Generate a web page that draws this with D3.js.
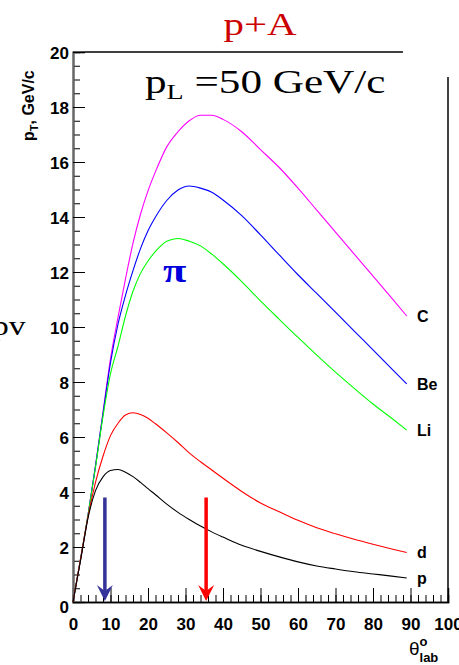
<!DOCTYPE html>
<html>
<head>
<meta charset="utf-8">
<script src="https://cdn.jsdelivr.net/npm/d3@7"></script>
<style>
  html, body { margin: 0; padding: 0; background: #fff; }
  svg { display: block; }
  .tick text { font-family: "Liberation Sans", Arial, sans-serif; font-weight: bold; font-size: 17px; fill: #000; }
</style>
</head>
<body>
<svg id="chart" width="459" height="665"></svg>
<script>
// Emission angle in the lab frame (degrees)
const theta = [0, 2, 4, 6, 8, 10, 12, 14, 16, 18, 20, 22, 25, 28, 31, 34, 37, 40, 45, 50, 55, 60, 65, 70, 75, 80, 85, 89];

// Maximum transverse momentum (GeV/c) for each target fragment
const ptC  = [0, 1.55, 3.15, 4.95, 6.9, 8.85, 10.35, 11.75, 13.05, 14.1, 14.95, 15.65, 16.55, 17.1, 17.5, 17.7, 17.7, 17.55, 17.1, 16.45, 15.8, 15.05, 14.25, 13.45, 12.65, 11.85, 11.05, 10.4];
const ptBe = [0, 1.55, 3.15, 4.95, 6.85, 8.7, 10.1, 11.15, 12.05, 12.85, 13.5, 14.0, 14.6, 14.98, 15.13, 15.05, 14.9, 14.62, 14.05, 13.35, 12.62, 11.9, 11.22, 10.54, 9.85, 9.17, 8.48, 7.93];
const ptLi = [0, 1.55, 3.15, 4.9, 6.75, 8.3, 9.3, 10.4, 11.3, 11.95, 12.4, 12.75, 13.12, 13.22, 13.12, 12.95, 12.65, 12.3, 11.65, 10.95, 10.28, 9.62, 8.98, 8.36, 7.77, 7.2, 6.68, 6.25];
const ptD  = [0, 1.55, 3.1, 4.35, 5.3, 6.05, 6.5, 6.8, 6.88, 6.82, 6.68, 6.48, 6.15, 5.8, 5.42, 5.1, 4.8, 4.5, 4.02, 3.6, 3.28, 2.97, 2.7, 2.48, 2.28, 2.1, 1.93, 1.8];
const ptP  = [0, 1.5, 3.05, 4.05, 4.55, 4.78, 4.82, 4.72, 4.56, 4.35, 4.12, 3.9, 3.56, 3.26, 3.0, 2.76, 2.55, 2.36, 2.06, 1.84, 1.64, 1.46, 1.31, 1.2, 1.1, 1.02, 0.94, 0.87];

const seriesNames  = ["C", "Be", "Li", "d", "p"];
const seriesValues = [ptC, ptBe, ptLi, ptD, ptP];
const seriesColors = ["#ff00ff", "#0000ff", "#00ff00", "#ff0000", "#000000"];

// Marker arrows: angle (deg) and starting height (GeV/c)
const arrowTheta  = [8.5, 35.5];
const arrowTop    = [3.8, 3.8];
const arrowColors = ["#333399", "#ff0000"];

const xTicks = d3.range(0, 101, 10);
const yTicks = d3.range(0, 21, 2);

const svg = d3.select("#chart");
const x = d3.scaleLinear().domain([0, 100]).range([73, 448]);
const y = d3.scaleLinear().domain([0, 20]).range([602, 52]);

// Frame
svg.append("line").attr("x1", 73).attr("x2", 403).attr("y1", y(20)).attr("y2", y(20))
  .attr("stroke", "#000").attr("stroke-width", 1.5);
svg.append("line").attr("x1", 448).attr("x2", 448).attr("y1", 77).attr("y2", y(0))
  .attr("stroke", "#000").attr("stroke-width", 1.5);

// X axis: major + minor ticks pointing inward
const xMinor = svg.append("g").attr("transform", `translate(0,${y(0)})`)
  .call(d3.axisBottom(x).tickValues(d3.range(0, 101, 2)).tickSize(-7).tickFormat(""));
const xMajor = svg.append("g").attr("transform", `translate(0,${y(0)})`)
  .call(d3.axisBottom(x).tickValues(xTicks).tickSize(-14).tickPadding(16).tickFormat(d3.format("d")));
[xMinor, xMajor].forEach(g => {
  g.select(".domain").attr("stroke", "#000").attr("stroke-width", 1.5);
  g.selectAll(".tick line").attr("stroke", "#000").attr("stroke-width", 1);
});

// Y axis
const yMinor = svg.append("g").attr("transform", `translate(${x(0)},0)`)
  .call(d3.axisLeft(y).tickValues(d3.range(0, 20.01, 0.5)).tickSize(-7).tickFormat(""));
const yMajor = svg.append("g").attr("transform", `translate(${x(0)},0)`)
  .call(d3.axisLeft(y).tickValues(yTicks).tickSize(-12).tickPadding(4).tickFormat(d3.format("d")));
[yMinor, yMajor].forEach(g => {
  g.select(".domain").attr("stroke", "#666").attr("stroke-width", 2);
  g.selectAll(".tick line").attr("stroke", "#000").attr("stroke-width", 1);
});
yMajor.selectAll(".tick text").attr("dy", "0.36em");
yMajor.selectAll(".tick").filter(d => d === 0).select("text").attr("dy", "0.6em");

// Curves
const line = d3.line().x(d => x(d[0])).y(d => y(d[1])).curve(d3.curveMonotoneX);
seriesValues.forEach((vals, i) => {
  const pts = theta.map((t, j) => [t, vals[j]]);
  svg.append("path").datum(pts).attr("d", line)
    .attr("fill", "none").attr("stroke", seriesColors[i]).attr("stroke-width", 1.1);
  svg.append("text").attr("x", 417).attr("y", y(vals[vals.length - 1])).attr("dy", "0.36em")
    .attr("font-family", "Liberation Sans, Arial, sans-serif").attr("font-weight", "bold")
    .attr("font-size", 16).text(seriesNames[i]);
});

// Arrows
arrowTheta.forEach((t, i) => {
  const ax = x(t), top = y(arrowTop[i]), tip = y(0) - 1;
  svg.append("line").attr("x1", ax).attr("x2", ax).attr("y1", top).attr("y2", tip - 10)
    .attr("stroke", arrowColors[i]).attr("stroke-width", 3.5);
  svg.append("path")
    .attr("d", `M${ax - 8},${tip - 16} L${ax},${tip - 10} L${ax + 8},${tip - 16} L${ax},${tip} Z`)
    .attr("fill", arrowColors[i]);
});

// Titles and annotations (serif texts are drawn slightly widened)
const serif = "Liberation Serif, Times New Roman, serif";
svg.append("text").attr("transform", "translate(260,35) scale(1.28,1)").attr("text-anchor", "middle")
  .attr("font-family", serif).attr("font-size", 32).attr("fill", "#cc0000").text("p+A");

const pl = svg.append("text").attr("transform", "translate(145,93) scale(1.27,1)")
  .attr("font-family", serif).attr("font-size", 34).attr("fill", "#000");
pl.append("tspan").text("p");
pl.append("tspan").attr("font-size", 22).attr("dy", 6).text("L");
pl.append("tspan").attr("dy", -6).text(" =50 GeV/c");

svg.append("text").attr("transform", "translate(163,282) scale(1.25,1)")
  .attr("font-family", serif).attr("font-weight", "bold")
  .attr("font-size", 34).attr("fill", "#0000dd").text("π");

svg.append("text").attr("transform", "translate(-8,335) scale(1.2,1)")
  .attr("font-family", serif).attr("font-size", 28).text("pv");

// Y axis title
const yt = svg.append("text").attr("transform", "translate(34,141) rotate(-90)")
  .attr("font-family", "Liberation Sans, Arial, sans-serif").attr("font-weight", "bold").attr("font-size", 16);
yt.append("tspan").text("p");
yt.append("tspan").attr("font-size", 11).attr("dy", 4).text("T");
yt.append("tspan").attr("dy", -4).text(", GeV/c");

// X axis title
const xt = svg.append("text").attr("x", 409).attr("y", 655)
  .attr("font-family", "Liberation Sans, Arial, sans-serif").attr("font-size", 19);
xt.append("tspan").text("θ");
xt.append("tspan").attr("font-size", 13).attr("font-weight", "bold").attr("dy", -9).text("o");
xt.append("tspan").attr("font-size", 13).attr("font-weight", "bold").attr("dx", -8).attr("dy", 16).text("lab");
</script>
</body>
</html>
